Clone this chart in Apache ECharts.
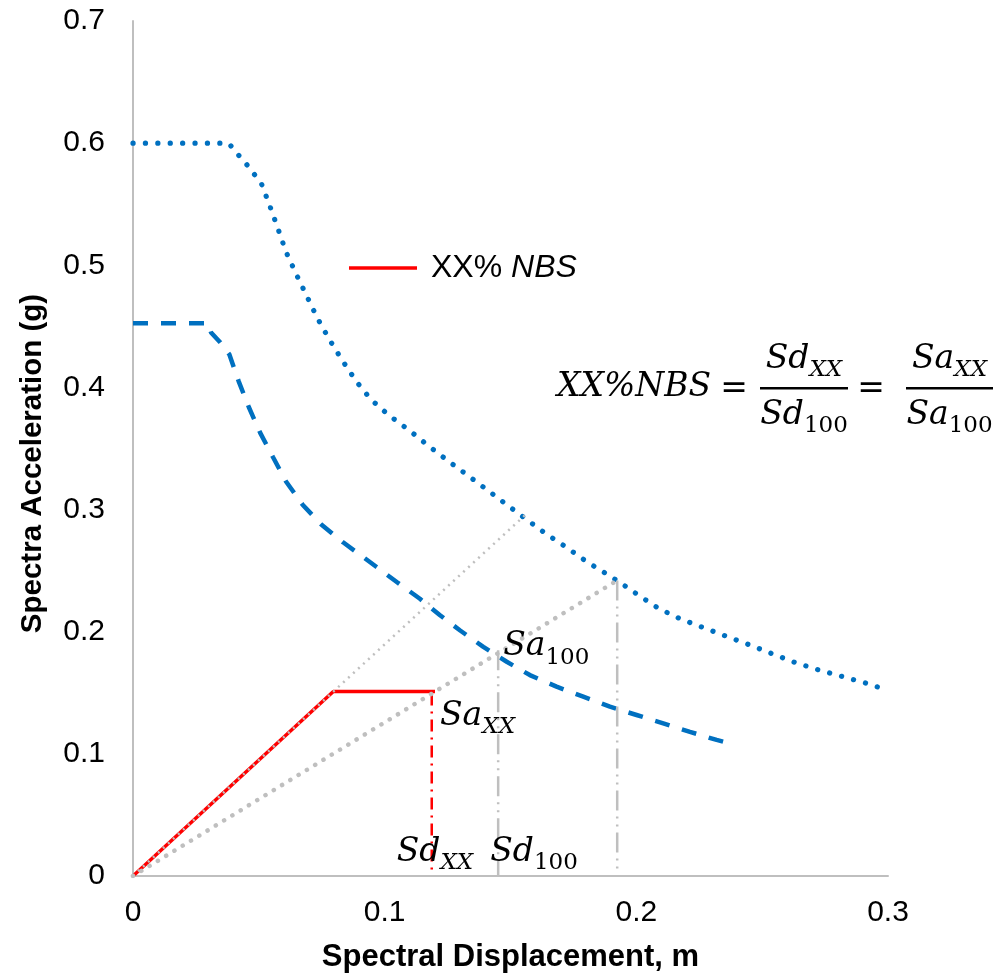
<!DOCTYPE html>
<html><head><meta charset="utf-8">
<script src="https://cdn.jsdelivr.net/npm/echarts@6/dist/echarts.min.js"></script>
<style>html,body{margin:0;padding:0;background:#fff}#c{width:1008px;height:978px}</style>
</head><body><div id="c"></div>
<script>
// ---- data ----
const xTickLabels = ['0', '0.1', '0.2', '0.3'];
const yTickLabels = ['0', '0.1', '0.2', '0.3', '0.4', '0.5', '0.6', '0.7'];
// 100%NBS demand spectrum (dotted)
const spectrum100 = [[0,0.6],[0.038,0.6],[0.0416,0.591],[0.045,0.583],[0.048,0.575],[0.051,0.567],[0.0543,0.549],[0.0576,0.53],[0.0608,0.511],[0.0648,0.493],[0.069,0.475],[0.0732,0.457],[0.0781,0.439],[0.0832,0.422],[0.0887,0.405],[0.0946,0.39],[0.1018,0.377],[0.1097,0.365],[0.1175,0.352],[0.1251,0.34],[0.133,0.328],[0.1408,0.316],[0.1485,0.304],[0.1563,0.292],[0.1642,0.28],[0.1723,0.269],[0.1805,0.257],[0.1884,0.247],[0.1926,0.2415],[0.2008,0.23],[0.2089,0.219],[0.2175,0.2105],[0.2266,0.2034],[0.2357,0.1963],[0.2449,0.1893],[0.2539,0.182],[0.2631,0.1748],[0.2723,0.1688],[0.2817,0.1634],[0.2911,0.158],[0.3,0.152]];
// XX%NBS demand spectrum (dashed)
const spectrumXX = [[0,0.4526],[0.03,0.4526],[0.031,0.445],[0.0346,0.437],[0.0383,0.427],[0.042,0.405],[0.046,0.384],[0.0505,0.363],[0.0556,0.343],[0.0608,0.323],[0.0674,0.304],[0.0747,0.288],[0.0836,0.273],[0.0968,0.253],[0.1048,0.2407],[0.114,0.227],[0.122,0.2135],[0.13,0.201],[0.1392,0.1876],[0.1485,0.1754],[0.1577,0.1645],[0.1683,0.155],[0.1789,0.1468],[0.1895,0.1386],[0.2001,0.1318],[0.2107,0.125],[0.2213,0.118],[0.2319,0.1114],[0.2345,0.110]];
// capacity curve XX% NBS (solid red)
const capacity = [[0,0],[0.0796,0.151],[0.12,0.151]];
// radial lines (gray dotted)
const rayThin = [[0,0],[0.1564,0.2966]];
const rayThick = [[0,0],[0.1924,0.242]];
// drop lines
const dropSdXX = [[0.1187,0.1495],[0.1187,0.005]];
const dropSd100 = [[0.1451,0.1848],[0.1451,0]];
const dropPP = [[0.1924,0.242],[0.1924,0.005]];
const legendName = 'XX% NBS';

// ---- chart ----
const chart = echarts.init(document.getElementById('c'));
const sans = 'Liberation Sans, Arial, sans-serif';
const serif = 'DejaVu Serif, serif';
const GRAY = '#BFBFBF';
const BLUE = '#0070C0';
const RED = '#FF0000';

function line(name, data, ls, z) {
  return { name, type: 'line', data, showSymbol: false, symbol: 'none', silent: true, z: z || 2,
    lineStyle: ls, itemStyle: { color: ls.color }, animation: false };
}

const option = {
  animation: false,
  grid: { left: 133, right: 120, top: 21, bottom: 100, containLabel: false },
  legend: {
    data: [legendName], left: 344, top: 247, icon: 'rect', itemWidth: 68, itemHeight: 3.5,
    formatter: () => '{n|XX% }{i|NBS}',
    textStyle: { padding: [0,0,0,9], rich: {
      n: { fontFamily: sans, fontSize: 32, color: '#000' },
      i: { fontFamily: sans, fontSize: 32, fontStyle: 'italic', color: '#000' } } }
  },
  xAxis: {
    type: 'value', min: 0, max: 0.3, interval: 0.1,
    name: 'Spectral Displacement, m', nameLocation: 'middle', nameGap: 66,
    nameTextStyle: { fontFamily: sans, fontSize: 31, fontWeight: 'bold', color: '#000' },
    axisLine: { show: true, lineStyle: { color: GRAY, width: 2 } },
    axisTick: { show: false }, splitLine: { show: false },
    axisLabel: { fontFamily: sans, fontSize: 30, color: '#000', margin: 22,
      formatter: (v, i) => xTickLabels[i] }
  },
  yAxis: {
    type: 'value', min: 0, max: 0.7, interval: 0.1,
    name: 'Spectra Acceleration (g)', nameLocation: 'middle', nameGap: 85,
    nameTextStyle: { fontFamily: sans, fontSize: 29.5, fontWeight: 'bold', color: '#000', padding: [0, 30, 0, 0] },
    axisLine: { show: true, lineStyle: { color: GRAY, width: 2 } },
    axisTick: { show: false }, splitLine: { show: false },
    axisLabel: { fontFamily: sans, fontSize: 30, color: '#000', margin: 28,
      formatter: (v, i) => yTickLabels[i] }
  },
  series: [
    line('spec100', spectrum100, { color: BLUE, width: 5.2, type: [0.1, 12.3], cap: 'round' }),
    line('specXX', spectrumXX, { color: BLUE, width: 4.5, type: [15, 13] }),
    line(legendName, capacity, { color: RED, width: 3.5 }, 3),
    line('rayThin', rayThin, { color: GRAY, width: 2.5, type: [2, 4.8] }, 4),
    line('rayThick', rayThick, { color: GRAY, width: 4.5, type: [0.1, 9.6], cap: 'round' }, 4),
    line('dropSdXX', dropSdXX, { color: RED, width: 2.5, type: [12, 6, 2, 6] }, 3),
    line('dropSd100', dropSd100, { color: GRAY, width: 2.5, type: [20, 6, 2, 6, 2, 6] }, 3),
    line('dropPP', dropPP, { color: GRAY, width: 2.5, type: [20, 6, 2, 6, 2, 6] }, 3)
  ]
};
chart.setOption(option);

// ---- math annotations ----
const MF = 33, SF = 23, SUBPAD = 16;
function math(x, y, main, sub, subItalic, align) {
  return { type: 'text', x, y, z: 10, silent: true,
    style: { text: '{m|' + main + '}{s|' + sub + '}', align: align || 'left', verticalAlign: 'top',
      rich: {
        m: { fontFamily: serif, fontStyle: 'italic', fontSize: MF, lineHeight: MF, verticalAlign: 'top', fill: '#000' },
        s: { fontFamily: serif, fontStyle: subItalic ? 'italic' : 'normal', fontSize: SF, lineHeight: SF,
             padding: [SUBPAD, 0, 0, 0], verticalAlign: 'top', fill: '#000' }
      } } };
}
const px = p => chart.convertToPixel({ gridIndex: 0 }, p);
const aSa100 = px(dropSd100[0]);
const aSaXX = px(capacity[2]);
const aSdXX = px(dropSdXX[1]);
const aSd100 = px(dropSd100[1]);

const graphics = [
  math(aSa100[0] + 5, aSa100[1] - 20, 'Sa', '100', false),
  math(aSaXX[0] + 5, aSaXX[1] + 8, 'Sa', 'XX', true),
  math(aSdXX[0] - 35, aSdXX[1] - 34, 'Sd', 'XX', true),
  math(aSd100[0] - 8, aSd100[1] - 40, 'Sd', '100', false),
  // equation
  { type: 'text', x: 557, y: 387, z: 10, silent: true, style: { text: 'XX%NBS', fontFamily: serif, fontStyle: 'italic', fontSize: MF, verticalAlign: 'middle', fill: '#000' } },
  { type: 'text', x: 734, y: 389, z: 10, silent: true, style: { text: '=', fontFamily: serif, fontSize: MF, align: 'center', verticalAlign: 'middle', fill: '#000' } },
  { type: 'rect', z: 10, silent: true, shape: { x: 760, y: 387, width: 88, height: 2.5 }, style: { fill: '#000' } },
  math(804, 343, 'Sd', 'XX', true, 'center'),
  math(804, 399, 'Sd', '100', false, 'center'),
  { type: 'text', x: 871, y: 389, z: 10, silent: true, style: { text: '=', fontFamily: serif, fontSize: MF, align: 'center', verticalAlign: 'middle', fill: '#000' } },
  { type: 'rect', z: 10, silent: true, shape: { x: 906, y: 387, width: 87, height: 2.5 }, style: { fill: '#000' } },
  math(949.5, 343, 'Sa', 'XX', true, 'center'),
  math(949.5, 399, 'Sa', '100', false, 'center')
];
chart.setOption({ graphic: graphics });
</script>
</body></html>
